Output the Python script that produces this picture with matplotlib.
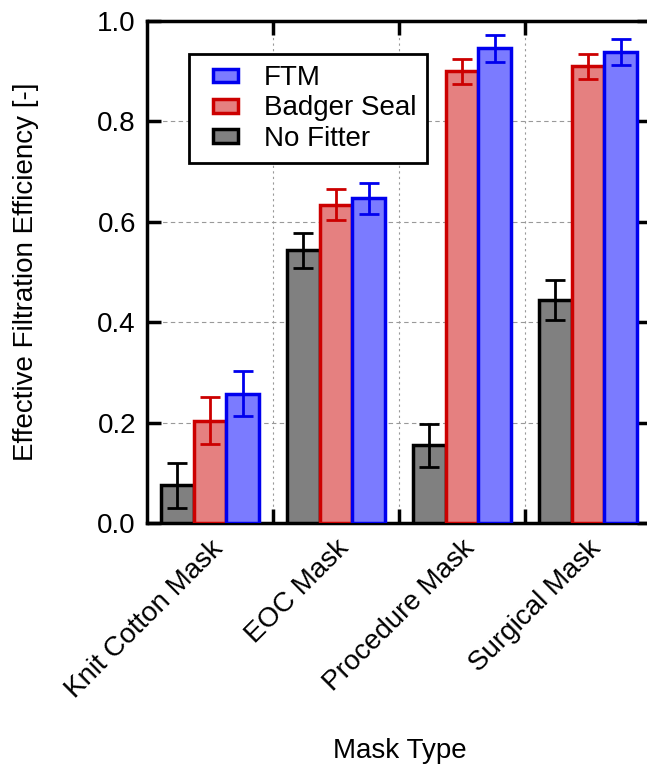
import matplotlib
matplotlib.use("Agg")
import matplotlib.pyplot as plt
from matplotlib.legend_handler import HandlerPatch
from matplotlib.patches import Rectangle
import numpy as np

plt.rcParams["font.family"] = ["Liberation Sans", "DejaVu Sans"]

categories = ["Knit Cotton Mask", "EOC Mask", "Procedure Mask", "Surgical Mask"]
series = ["No Fitter", "Badger Seal", "FTM"]
no_fitter = [0.075, 0.543, 0.155, 0.445]
no_fitter_err = [0.045, 0.034, 0.043, 0.040]
badger = [0.204, 0.634, 0.900, 0.910]
badger_err = [0.047, 0.031, 0.025, 0.025]
ftm = [0.258, 0.647, 0.946, 0.938]
ftm_err = [0.044, 0.031, 0.027, 0.026]

faces = ["#808080", "#e58080", "#7b7bff"]
edges = ["#000000", "#cc0000", "#0000ee"]


def small_box(legend, orig_handle, xdescent, ydescent, width, height, fontsize):
    # narrow swatch sitting inside a wider handle area
    bw, bh = 18, 10
    return Rectangle((-xdescent + 9.5, -ydescent + (height - bh) / 2), bw, bh)


fig = plt.figure(figsize=(6.47, 7.68), dpi=100)
ax = fig.add_axes([0.2272, 0.319, 0.779, 0.6536])

x = np.arange(len(categories))
w = 0.26
proxies = []
for i, (vals, errs) in enumerate([(no_fitter, no_fitter_err), (badger, badger_err), (ftm, ftm_err)]):
    ax.bar(x + (i - 1) * w, vals, w, color=faces[i], edgecolor=edges[i], linewidth=2.5, zorder=3)
    ax.errorbar(x + (i - 1) * w, vals, yerr=errs, fmt="none", ecolor=edges[i], elinewidth=2,
                capsize=7, capthick=2, zorder=4)
    proxies.append(Rectangle((0, 0), 1, 1, facecolor=faces[i], edgecolor=edges[i], linewidth=2.5))

ax.set_xlim(-0.5, 3.5)
ax.set_ylim(0, 1.0)
ax.set_yticks(np.arange(0, 1.01, 0.2))
ax.set_yticklabels([f"{v:.1f}" for v in np.arange(0, 1.01, 0.2)], fontsize=20)
ax.set_xticks([0.5, 1.5, 2.5])
ax.set_xticklabels([])
ax.set_xticks(x, minor=True)
ax.set_xticklabels(categories, minor=True, rotation=45, ha="right", rotation_mode="anchor", fontsize=20)
ax.tick_params(axis="x", which="minor", length=0, pad=9)
ax.tick_params(axis="both", which="major", direction="in", length=10, width=2.5, top=True, right=True)
ax.tick_params(axis="y", pad=8)
for s in ax.spines.values():
    s.set_linewidth(2.5)
ax.yaxis.grid(True, linestyle=(0, (4, 3)), color="#999999", linewidth=0.8, zorder=0)
ax.xaxis.grid(True, which="major", linestyle=(0, (2, 3)), color="#999999", linewidth=0.8, zorder=0)

ax.set_ylabel("Effective Filtration Efficiency [-]", fontsize=20, labelpad=42)
fig.text(400 / 647, 1 - 751 / 768, "Mask Type", fontsize=20, ha="center", va="center")

leg = ax.legend(proxies[::-1], series[::-1], loc="upper left", bbox_to_anchor=(0.083, 0.934),
                fontsize=20, frameon=True, fancybox=False, edgecolor="black",
                handlelength=1.6, handleheight=0.6, borderpad=0.4, labelspacing=0.15,
                handletextpad=0.7, borderaxespad=0,
                handler_map={Rectangle: HandlerPatch(patch_func=small_box)})
leg.get_frame().set_linewidth(2)
leg.get_frame().set_alpha(1)

fig.savefig("out.png", dpi=100)
